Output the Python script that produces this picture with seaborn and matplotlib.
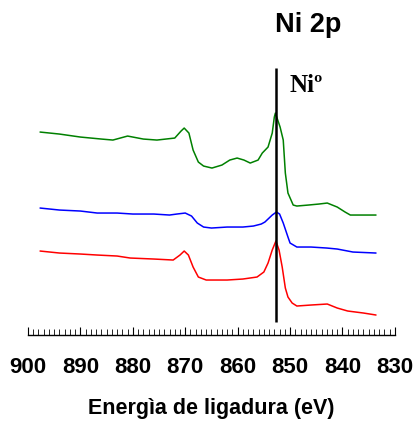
import pandas as pd
import matplotlib
matplotlib.use('Agg')
import matplotlib.pyplot as plt
import seaborn as sns

# Ni 2p spectra (binding energy in eV, intensity in arbitrary units, offset stacked)
green_e = [897.7, 894, 890, 886, 883.8, 881, 878, 875.4, 872, 870.8, 870.2, 869.3,
           868.5, 867.5, 866.5, 864.9, 863, 861.5, 860.1, 858.8, 857.6, 856.1, 855.3,
           854.2, 853.4, 853.0, 852.8, 851.9, 851.3, 850.9, 850.4, 849.4, 848.7, 846.5,
           844.5, 842.9, 841, 839.5, 838.5, 836, 833.6]
green_i = [203, 201, 198, 196, 195, 199, 196, 195, 197, 204, 207, 202,
           185, 173, 169, 167, 170, 175, 177, 175, 172, 175, 182,
           188, 202, 218, 222, 208, 195, 162, 142, 130, 129, 130,
           131, 132, 128, 123, 120, 120, 120]

blue_e = [897.7, 894, 890, 886.8, 883, 880, 876, 873, 871.6, 870, 868.8, 867.7,
          866.5, 865, 862, 859, 857, 855.5, 854.8, 853.4, 852.6, 852, 851.3, 850.4,
          850, 848.7, 846, 843, 841, 838, 833.6]
blue_i = [127, 125, 124, 122, 122, 121, 121, 120, 121, 122, 119, 112,
          108, 107, 108, 108, 109, 111, 113, 120, 123, 121, 112, 98,
          92, 88, 88, 87, 86, 83, 82]

red_e = [897.7, 894, 890, 886.8, 883, 880.5, 876, 872.3, 871, 870.2, 869.4, 868.5,
         867.5, 866, 862, 859, 856.3, 855, 854.2, 853.4, 852.7, 852.1, 851.5, 850.9,
         850.4, 849.6, 848.7, 846, 842.9, 841, 839, 836, 833.6]
red_i = [84, 82, 81, 80, 79, 77, 76, 75, 80, 84, 80, 68,
         58, 55, 55, 56, 58, 63, 72, 85, 94, 85, 68, 47,
         38, 32, 29, 30, 31, 27, 24, 22, 20]

ni0_energy = 852.7
colors = ['#008000', '#0000ff', '#ff0000']

df = pd.concat([
    pd.DataFrame({'E': green_e, 'I': green_i, 's': 'a'}),
    pd.DataFrame({'E': blue_e, 'I': blue_i, 's': 'b'}),
    pd.DataFrame({'E': red_e, 'I': red_i, 's': 'c'}),
])

sns.set_style("white")
plt.rcParams['font.family'] = ['Liberation Sans', 'DejaVu Sans']
plt.rcParams['text.color'] = 'black'
plt.rcParams['xtick.color'] = 'black'

fig = plt.figure(figsize=(4.15, 4.23), dpi=100)
ax = fig.add_axes([0.0675, 0.208, 0.884, 0.650])

sns.lineplot(data=df, x='E', y='I', hue='s', palette=colors, sort=False,
             linewidth=1.1, legend=False, ax=ax)
ax.vlines(ni0_energy, 13, 267, color='black', linewidth=1.8)
ax.text(850.1, 250, 'Niº', family='Liberation Serif', fontweight='bold',
        fontsize=18, va='center', ha='left', color='black')

ax.set_xlim(900, 830)
ax.set_ylim(0, 275)
ax.set_xticks(range(900, 829, -10))
ax.set_xticks(range(900, 829, -1), minor=True)
ax.tick_params(axis='x', which='both', bottom=True, direction='in', colors='black')
ax.tick_params(axis='x', which='major', length=6, width=0.8, pad=16, labelsize=16)
ax.tick_params(axis='x', which='minor', length=4.5, width=0.6)
for lab in ax.get_xticklabels():
    lab.set_fontweight('bold')
ax.set_yticks([])
ax.set_ylabel('')
ax.set_xlabel('Energìa de ligadura (eV)', fontsize=15.5, fontweight='bold',
              labelpad=14, color='black')
for side in ['left', 'top', 'right']:
    ax.spines[side].set_visible(False)
ax.spines['bottom'].set_linewidth(1.0)
ax.spines['bottom'].set_color('black')

fig.text(0.742, 0.941, 'Ni 2p', fontsize=19.5, fontweight='bold', ha='center',
         va='center', color='black')

fig.savefig('out.png', dpi=100)
